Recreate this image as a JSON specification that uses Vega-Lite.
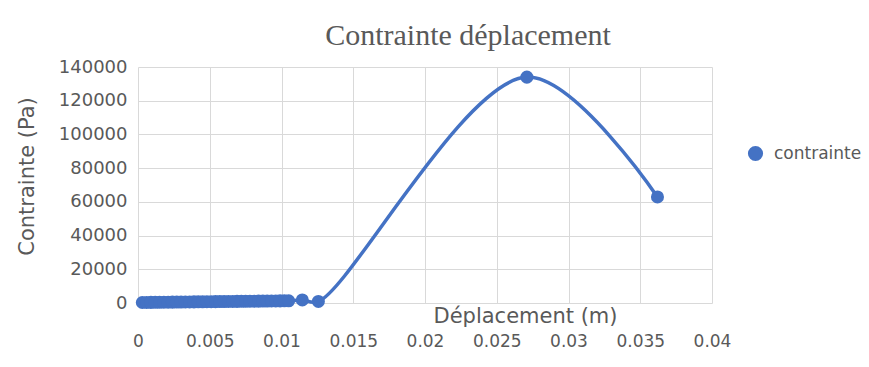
{
  "$schema": "https://vega.github.io/schema/vega-lite/v6.json",
  "width": 574,
  "height": 236,
  "autosize": {"type": "none"},
  "padding": {"left": 138, "top": 67, "right": 157, "bottom": 64},
  "background": "white",
  "title": {
    "text": "Contrainte déplacement",
    "font": "Liberation Serif",
    "fontSize": 30,
    "fontWeight": "normal",
    "color": "#595959",
    "anchor": "middle",
    "dx": 43,
    "offset": 7
  },
  "config": {
    "view": {"stroke": null},
    "axis": {
      "labelFont": "DejaVu Sans",
      "labelFontSize": 17,
      "labelColor": "#595959",
      "titleFont": "DejaVu Sans",
      "titleFontSize": 21,
      "titleFontWeight": "normal",
      "titleColor": "#595959",
      "gridColor": "#d9d9d9",
      "gridWidth": 1,
      "ticks": false,
      "domain": false
    }
  },
  "data": {
    "values": [
      {"x": 0.0003, "y": 300, "serie": "contrainte"},
      {"x": 0.0006, "y": 330, "serie": "contrainte"},
      {"x": 0.0009, "y": 360, "serie": "contrainte"},
      {"x": 0.0012, "y": 390, "serie": "contrainte"},
      {"x": 0.0015, "y": 420, "serie": "contrainte"},
      {"x": 0.0018, "y": 450, "serie": "contrainte"},
      {"x": 0.0021, "y": 480, "serie": "contrainte"},
      {"x": 0.0024, "y": 510, "serie": "contrainte"},
      {"x": 0.0027, "y": 540, "serie": "contrainte"},
      {"x": 0.0030, "y": 570, "serie": "contrainte"},
      {"x": 0.0033, "y": 600, "serie": "contrainte"},
      {"x": 0.0036, "y": 630, "serie": "contrainte"},
      {"x": 0.0039, "y": 660, "serie": "contrainte"},
      {"x": 0.0042, "y": 690, "serie": "contrainte"},
      {"x": 0.0045, "y": 720, "serie": "contrainte"},
      {"x": 0.0048, "y": 750, "serie": "contrainte"},
      {"x": 0.0051, "y": 780, "serie": "contrainte"},
      {"x": 0.0054, "y": 810, "serie": "contrainte"},
      {"x": 0.0057, "y": 840, "serie": "contrainte"},
      {"x": 0.0060, "y": 870, "serie": "contrainte"},
      {"x": 0.0063, "y": 900, "serie": "contrainte"},
      {"x": 0.0066, "y": 930, "serie": "contrainte"},
      {"x": 0.0069, "y": 960, "serie": "contrainte"},
      {"x": 0.0072, "y": 990, "serie": "contrainte"},
      {"x": 0.0075, "y": 1020, "serie": "contrainte"},
      {"x": 0.0078, "y": 1050, "serie": "contrainte"},
      {"x": 0.0081, "y": 1080, "serie": "contrainte"},
      {"x": 0.0084, "y": 1110, "serie": "contrainte"},
      {"x": 0.0087, "y": 1140, "serie": "contrainte"},
      {"x": 0.0090, "y": 1170, "serie": "contrainte"},
      {"x": 0.0093, "y": 1200, "serie": "contrainte"},
      {"x": 0.0096, "y": 1230, "serie": "contrainte"},
      {"x": 0.0099, "y": 1260, "serie": "contrainte"},
      {"x": 0.0102, "y": 1290, "serie": "contrainte"},
      {"x": 0.0105, "y": 1320, "serie": "contrainte"},
      {"x": 0.01145, "y": 1800, "serie": "contrainte"},
      {"x": 0.01257, "y": 900, "serie": "contrainte"},
      {"x": 0.0271, "y": 134000, "serie": "contrainte"},
      {"x": 0.0362, "y": 62900, "serie": "contrainte"}
    ]
  },
  "encoding": {
    "x": {
      "field": "x",
      "type": "quantitative",
      "scale": {"domain": [0, 0.04], "nice": false},
      "axis": {
        "values": [0, 0.005, 0.01, 0.015, 0.02, 0.025, 0.03, 0.035, 0.04],
        "format": "~g",
        "labelFlush": false,
        "labelPadding": 30,
        "title": "Déplacement (m)",
        "titleBaseline": "middle",
        "titleAlign": "center",
        "titleAnchor": null,
        "titleX": 387,
        "titleY": 13
      }
    },
    "y": {
      "field": "y",
      "type": "quantitative",
      "scale": {"domain": [0, 140000], "nice": false},
      "axis": {
        "values": [0, 20000, 40000, 60000, 80000, 100000, 120000, 140000],
        "format": "d",
        "labelFontSize": 18,
        "labelFlush": false,
        "labelPadding": 11,
        "title": "Contrainte (Pa)",
        "titleAngle": -90,
        "titleBaseline": "middle",
        "titleAlign": "center",
        "titleAnchor": null,
        "titleX": -111,
        "titleY": 109
      }
    }
  },
  "layer": [
    {
      "mark": {"type": "line", "color": "#4472c4", "strokeWidth": 3.5, "interpolate": "catmull-rom", "clip": false}
    },
    {
      "mark": {"type": "point", "filled": true, "size": 170, "opacity": 1, "shape": "circle", "clip": false},
      "encoding": {
        "color": {
          "field": "serie",
          "type": "nominal",
          "scale": {"range": ["#4472c4"]},
          "legend": {
            "title": null,
            "orient": "none",
            "legendX": 609,
            "legendY": 78,
            "labelFont": "DejaVu Sans",
            "labelFontSize": 17,
            "labelOffset": 10,
            "labelColor": "#595959",
            "symbolSize": 230,
            "symbolType": "circle",
            "symbolOpacity": 1
          }
        }
      }
    }
  ]
}
